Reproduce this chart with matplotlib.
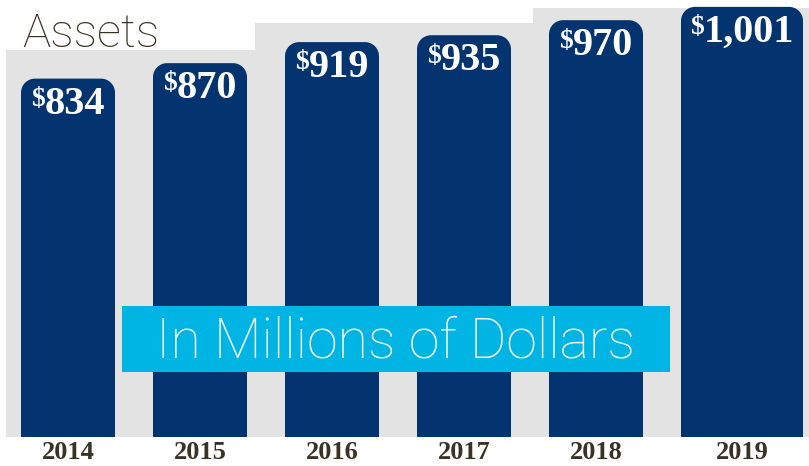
import matplotlib
matplotlib.use("Agg")
import matplotlib.pyplot as plt
from matplotlib.patches import Rectangle, PathPatch
from matplotlib.path import Path

# data
years = ["2014", "2015", "2016", "2017", "2018", "2019"]
assets = [834, 870, 919, 935, 970, 1001]
labels = ["834", "870", "919", "935", "970", "1,001"]

W, H = 809, 466
navy = "#03346f"
gray = "#e3e3e3"
brown = "#3a3224"
cyan = "#00b5e3"

fig = plt.figure(figsize=(W / 100, H / 100), dpi=100)
fig.patch.set_facecolor("white")


def fx(px):
    return px / W


def fy(py):
    # py measured from top of picture
    return 1 - py / H


# stepped gray background
for x0, x1, top in [(6, 255, 50), (255, 533, 23), (533, W, 8)]:
    fig.add_artist(Rectangle((fx(x0), fy(437)), fx(x1 - x0), (437 - top) / H,
                             transform=fig.transFigure, facecolor=gray,
                             edgecolor="none", zorder=-1))

ax = fig.add_axes([0, 29 / H, 1, 437 / H])
ax.patch.set_visible(False)
ax.axis("off")
step = 132  # px between bars
ax.set_xlim(-68 / step, (W - 68) / step)
ax.set_ylim(0, 437 / 0.4297)

widths = [94 / step] * 5 + [122 / step]
xs = [i - 47 / step for i in range(len(years))]
bars = ax.bar(xs, assets, width=widths, align="edge", color=navy)

# rounded tops: replace rectangles with paths (circular in pixels)
rx = 14 / step
ry = 14 * (ax.get_ylim()[1] / 437)
k = 0.5523
for b in bars:
    x0, w, h = b.get_x(), b.get_width(), b.get_height()
    x1 = x0 + w
    verts = [(x0, 0), (x0, h - ry),
             (x0, h - ry + k * ry), (x0 + rx - k * rx, h), (x0 + rx, h),
             (x1 - rx, h),
             (x1 - rx + k * rx, h), (x1, h - ry + k * ry), (x1, h - ry),
             (x1, 0), (x0, 0)]
    codes = [Path.MOVETO, Path.LINETO,
             Path.CURVE4, Path.CURVE4, Path.CURVE4,
             Path.LINETO,
             Path.CURVE4, Path.CURVE4, Path.CURVE4,
             Path.LINETO, Path.CLOSEPOLY]
    ax.add_patch(PathPatch(Path(verts, codes), facecolor=navy, edgecolor="none"))
    b.set_visible(False)

fig.canvas.draw()
r = fig.canvas.get_renderer()

# value labels: small raised "$" + big digits
for b, lab in zip(bars, labels):
    cx = b.get_x() + b.get_width() / 2
    top = b.get_height()
    t = ax.annotate(lab, (cx, top), xytext=(0, -5), textcoords="offset points",
                    ha="center", va="top", color="white",
                    family="Liberation Serif", weight="bold", fontsize=29)
    d = ax.annotate("$", (cx, top), xytext=(0, -6), textcoords="offset points",
                    ha="center", va="top", color="white",
                    family="Liberation Serif", weight="bold", fontsize=20)
    wt = t.get_window_extent(r).width
    wd = d.get_window_extent(r).width
    tot = wt + wd
    # shift so that "$digits" is centered as a whole (points = px * 72/100)
    t.set_position(((-tot / 2 + wd + wt / 2) * 0.72, -5))
    d.set_position(((-tot / 2 + wd / 2) * 0.72, -6))

# year labels
for b, yr in zip(bars, years):
    cx = b.get_x() + b.get_width() / 2
    ax.annotate(yr, (cx, 0), xytext=(0, -22 * 0.72), textcoords="offset points",
                ha="center", va="baseline", color=brown, annotation_clip=False,
                family="Liberation Serif", weight="bold", fontsize=19)

# title
fig.text(fx(22), fy(47), "Assets", ha="left", va="baseline", color=brown,
         family="Roboto", weight="light", fontsize=34)

# cyan note box
fig.add_artist(Rectangle((fx(122), fy(372)), fx(670 - 122), (372 - 306) / H,
                         transform=fig.transFigure, facecolor=cyan,
                         edgecolor="none", zorder=2))
fig.text(fx(396), fy(357), "In Millions of Dollars", ha="center", va="baseline",
         color="white", family="Roboto", weight="light", fontsize=40, zorder=3)

fig.savefig("out.png", dpi=100)
